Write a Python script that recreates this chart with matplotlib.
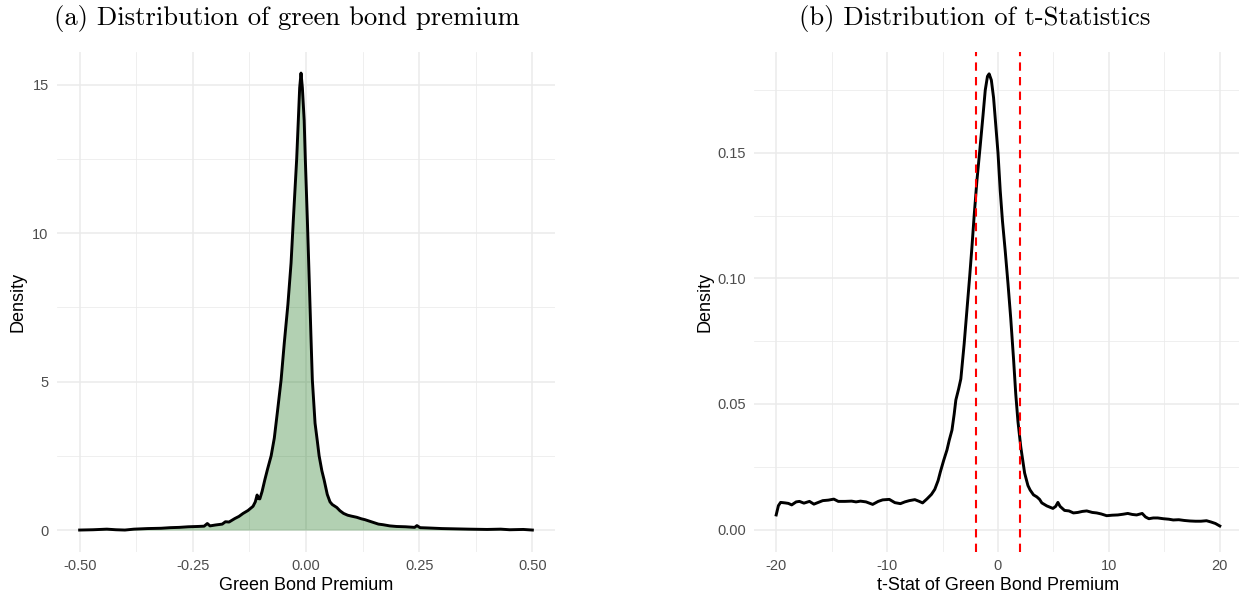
import numpy as np
import matplotlib
matplotlib.use("Agg")
import matplotlib.pyplot as plt
from matplotlib.ticker import MultipleLocator, FixedLocator

# panel (a): density of the green bond premium
gbp_x = [-0.500, -0.47, -0.44, -0.42, -0.40, -0.38, -0.35, -0.32, -0.30, -0.28,
         -0.26, -0.24, -0.225, -0.218, -0.212, -0.20, -0.185, -0.178, -0.17, -0.157,
         -0.148, -0.139, -0.128, -0.117, -0.112, -0.108, -0.105, -0.102, -0.097, -0.091,
         -0.085, -0.077, -0.070, -0.063, -0.055, -0.048, -0.040, -0.033, -0.028, -0.0206,
         -0.017, -0.014, -0.011, -0.008, -0.004, -0.0015, 0.003, 0.008, 0.011, 0.014,
         0.020, 0.025, 0.029, 0.035, 0.040, 0.047, 0.053, 0.058, 0.064, 0.068,
         0.075, 0.083, 0.092, 0.100, 0.112, 0.122, 0.130, 0.140, 0.150, 0.160,
         0.170, 0.185, 0.200, 0.220, 0.240, 0.245, 0.252, 0.270, 0.300, 0.330,
         0.360, 0.400, 0.430, 0.450, 0.480, 0.500]
gbp_density = [0.00, 0.01, 0.03, 0.01, 0.00, 0.03, 0.05, 0.06, 0.08, 0.09,
               0.11, 0.12, 0.13, 0.22, 0.14, 0.17, 0.20, 0.28, 0.27, 0.39,
               0.46, 0.56, 0.66, 0.80, 0.95, 1.18, 1.06, 1.05, 1.30, 1.69,
               2.05, 2.50, 3.10, 4.00, 5.06, 6.30, 7.60, 9.00, 10.45, 12.5,
               13.8, 14.9, 15.4, 14.9, 13.8, 12.5, 10.45, 8.0, 6.5, 5.06,
               3.6, 3.0, 2.5, 2.0, 1.69, 1.20, 0.95, 0.86, 0.80, 0.76,
               0.65, 0.56, 0.50, 0.47, 0.43, 0.38, 0.35, 0.30, 0.25, 0.20,
               0.18, 0.14, 0.12, 0.11, 0.09, 0.15, 0.08, 0.07, 0.05, 0.04,
               0.03, 0.02, 0.03, 0.01, 0.02, 0.00]

# panel (b): density of t-statistics
t_x = [-20.0, -19.8, -19.6, -19.2, -18.9, -18.6, -18.2, -17.9, -17.5, -17.0,
       -16.6, -16.2, -15.8, -15.3, -14.8, -14.4, -13.8, -13.2, -12.8, -12.4,
       -11.9, -11.3, -10.8, -10.4, -9.8, -9.3, -8.8, -8.4, -8.0, -7.5,
       -7.1, -6.8, -6.4, -6.0, -5.7, -5.4, -5.2, -4.9, -4.6, -4.4,
       -4.15, -3.95, -3.8, -3.55, -3.35, -3.05, -2.8, -2.55, -2.35, -2.15,
       -1.9, -1.6, -1.35, -1.15, -0.95, -0.8, -0.6, -0.4, -0.2, 0.0,
       0.2, 0.4, 0.65, 0.9, 1.15, 1.4, 1.6, 1.8, 2.05, 2.4,
       2.7, 2.9, 3.2, 3.5, 3.75, 3.95, 4.4, 4.95, 5.2, 5.4,
       5.6, 6.0, 6.4, 6.8, 7.2, 7.6, 8.0, 8.5, 8.9, 9.3,
       9.8, 10.3, 10.8, 11.3, 11.7, 12.1, 12.5, 13.0, 13.3, 13.6,
       14.0, 14.4, 14.9, 15.4, 15.8, 16.3, 16.8, 17.3, 17.8, 18.3,
       18.8, 19.2, 19.6, 20.0]
t_density = [0.0058, 0.0095, 0.0108, 0.0106, 0.0104, 0.0098, 0.0110, 0.0112, 0.0105, 0.0112,
             0.0101, 0.0108, 0.0115, 0.0117, 0.0121, 0.0112, 0.0112, 0.0113, 0.0110, 0.0113,
             0.0110, 0.0100, 0.0112, 0.0118, 0.0120, 0.0107, 0.0103, 0.0110, 0.0115, 0.0119,
             0.0112, 0.0106, 0.0122, 0.0140, 0.0160, 0.0195, 0.0229, 0.0275, 0.0317, 0.0355,
             0.0396, 0.0460, 0.0516, 0.0560, 0.0600, 0.0740, 0.0875, 0.1010, 0.1125, 0.1250,
             0.1390, 0.1530, 0.1650, 0.1750, 0.1805, 0.1815, 0.1790, 0.1720, 0.1610, 0.1500,
             0.1350, 0.1230, 0.1110, 0.0980, 0.0840, 0.0680, 0.0540, 0.0430, 0.0330, 0.0225,
             0.0175, 0.0157, 0.0138, 0.0130, 0.0120, 0.0106, 0.0094, 0.0084, 0.0092, 0.0108,
             0.0092, 0.0076, 0.0074, 0.0066, 0.0068, 0.0072, 0.0074, 0.0068, 0.0066, 0.0062,
             0.0055, 0.0057, 0.0058, 0.0061, 0.0064, 0.0060, 0.0058, 0.0064, 0.0050, 0.0043,
             0.0046, 0.0046, 0.0043, 0.0041, 0.0038, 0.0039, 0.0036, 0.0034, 0.0033, 0.0033,
             0.0035, 0.0030, 0.0024, 0.0014]
crit_values = [-1.96, 1.96]

W, H = 1239, 599
fig = plt.figure(figsize=(W / 100, H / 100), dpi=100)

def px_axes(x0, x1, y0, y1):
    return fig.add_axes([x0 / W, 1 - y1 / H, (x1 - x0) / W, (y1 - y0) / H])

def minimal_theme(ax, xmajor, xminor, ymajor, yminor):
    ax.set_facecolor('white')
    for s in ax.spines.values():
        s.set_visible(False)
    ax.xaxis.set_major_locator(FixedLocator(xmajor))
    ax.xaxis.set_minor_locator(FixedLocator(xminor))
    ax.yaxis.set_major_locator(FixedLocator(ymajor))
    ax.yaxis.set_minor_locator(FixedLocator(yminor))
    ax.grid(True, which='major', color='#EBEBEB', lw=1.1)
    ax.grid(True, which='minor', color='#EBEBEB', lw=0.55)
    ax.set_axisbelow(True)
    ax.tick_params(which='both', length=0, labelsize=10.5, labelcolor='#4D4D4D')
    ax.tick_params(axis='x', pad=5)
    ax.tick_params(axis='y', pad=6)

text_font = 'Liberation Sans'

# ---- panel (a)
ax1 = px_axes(57, 555, 52, 552)
ax1.fill_between(gbp_x, gbp_density, color='darkgreen', alpha=0.3, lw=0, zorder=2)
ax1.plot(gbp_x, gbp_density, color='black', lw=2.1, zorder=3)
ax1.set_xlim(-0.55, 0.55)
ax1.set_ylim(-0.74, 16.11)
minimal_theme(ax1, [-0.5, -0.25, 0, 0.25, 0.5], [-0.375, -0.125, 0.125, 0.375],
              [0, 5, 10, 15], [2.5, 7.5, 12.5])
ax1.set_xticklabels(['-0.50', '-0.25', '0.00', '0.25', '0.50'], family=text_font)
ax1.set_yticklabels(['0', '5', '10', '15'], family=text_font)
ax1.set_xlabel('Green Bond Premium', fontsize=13, family=text_font)
ax1.set_ylabel('Density', fontsize=13, family=text_font)
ax1.xaxis.set_label_coords(0.5, -0.066)
ax1.xaxis.label.set_va('center')
ax1.yaxis.set_label_coords(-0.078, 0.5)
ax1.yaxis.label.set_va('center')

# ---- panel (b)
ax2 = px_axes(754, 1242, 52, 552)
ax2.plot(t_x, t_density, color='black', lw=2.1, zorder=3)
for cv in crit_values:
    ax2.axvline(cv, color='red', lw=1.5, ls=(0, (4, 3)), zorder=4)
ax2.set_xlim(-22, 22)
ax2.set_ylim(-0.00896, 0.1902)
minimal_theme(ax2, [-20, -10, 0, 10, 20], [-15, -5, 5, 15],
              [0, 0.05, 0.10, 0.15], [0.025, 0.075, 0.125, 0.175])
ax2.set_xticklabels(['-20', '-10', '0', '10', '20'], family=text_font)
ax2.set_yticklabels(['0.00', '0.05', '0.10', '0.15'], family=text_font)
ax2.set_xlabel('t-Stat of Green Bond Premium', fontsize=13, family=text_font)
ax2.set_ylabel('Density', fontsize=13, family=text_font)
ax2.xaxis.set_label_coords(0.5, -0.066)
ax2.xaxis.label.set_va('center')
ax2.yaxis.set_label_coords(-0.1, 0.5)
ax2.yaxis.label.set_va('center')

# subfigure captions (LaTeX style)
fig.text(287 / W, 1 - 19 / H, '(a) Distribution of green bond premium',
         family='cmr10', fontsize=19.2, ha='center', va='center')
fig.text(975 / W, 1 - 19 / H, '(b) Distribution of t-Statistics',
         family='cmr10', fontsize=19.2, ha='center', va='center')

fig.savefig('out.png', dpi=100, facecolor='white')
